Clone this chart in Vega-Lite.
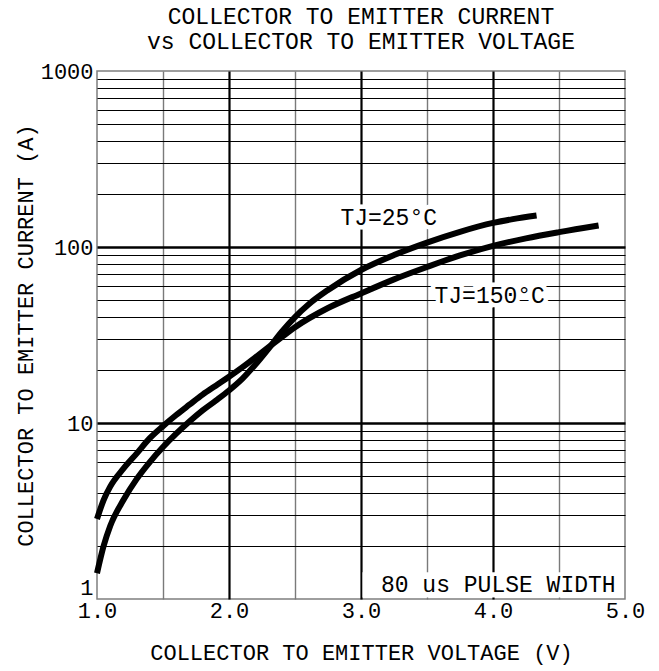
{
  "$schema": "https://vega.github.io/schema/vega-lite/v6.json",
  "width": 528,
  "height": 528,
  "autosize": {"type": "none"},
  "padding": {"left": 97, "top": 71, "right": 34, "bottom": 72},
  "background": "white",
  "config": {
    "font": "Liberation Mono",
    "view": {"stroke": "#7f7f7f", "strokeWidth": 1.5}
  },
  "title": {
    "text": ["COLLECTOR TO EMITTER CURRENT", "vs COLLECTOR TO EMITTER VOLTAGE"],
    "font": "Liberation Mono",
    "fontSize": 23,
    "fontWeight": "normal",
    "lineHeight": 25,
    "offset": 6,
    "anchor": "middle",
    "color": "black"
  },
  "datasets": {
    "curves": [
      {"series": "TJ=25°C", "V": 1.0, "I": 1.4},
      {"series": "TJ=25°C", "V": 1.05, "I": 2.0},
      {"series": "TJ=25°C", "V": 1.1, "I": 2.6},
      {"series": "TJ=25°C", "V": 1.2, "I": 3.65},
      {"series": "TJ=25°C", "V": 1.3, "I": 4.8},
      {"series": "TJ=25°C", "V": 1.4, "I": 6.0},
      {"series": "TJ=25°C", "V": 1.5, "I": 7.3},
      {"series": "TJ=25°C", "V": 1.6, "I": 8.7},
      {"series": "TJ=25°C", "V": 1.7, "I": 10.2},
      {"series": "TJ=25°C", "V": 1.8, "I": 11.8},
      {"series": "TJ=25°C", "V": 1.9, "I": 13.4},
      {"series": "TJ=25°C", "V": 2.0, "I": 15.3},
      {"series": "TJ=25°C", "V": 2.1, "I": 17.8},
      {"series": "TJ=25°C", "V": 2.2, "I": 21.5},
      {"series": "TJ=25°C", "V": 2.3, "I": 26.5},
      {"series": "TJ=25°C", "V": 2.4, "I": 33},
      {"series": "TJ=25°C", "V": 2.5, "I": 40},
      {"series": "TJ=25°C", "V": 2.6, "I": 47},
      {"series": "TJ=25°C", "V": 2.75, "I": 57},
      {"series": "TJ=25°C", "V": 3.0, "I": 74},
      {"series": "TJ=25°C", "V": 3.25, "I": 90},
      {"series": "TJ=25°C", "V": 3.5, "I": 106},
      {"series": "TJ=25°C", "V": 3.75, "I": 122},
      {"series": "TJ=25°C", "V": 4.0, "I": 137},
      {"series": "TJ=25°C", "V": 4.15, "I": 144},
      {"series": "TJ=25°C", "V": 4.33, "I": 151},
      {"series": "TJ=150°C", "V": 1.0, "I": 2.85},
      {"series": "TJ=150°C", "V": 1.05, "I": 3.65},
      {"series": "TJ=150°C", "V": 1.1, "I": 4.35},
      {"series": "TJ=150°C", "V": 1.2, "I": 5.5},
      {"series": "TJ=150°C", "V": 1.3, "I": 6.7},
      {"series": "TJ=150°C", "V": 1.4, "I": 8.2},
      {"series": "TJ=150°C", "V": 1.5, "I": 9.6},
      {"series": "TJ=150°C", "V": 1.6, "I": 11.1},
      {"series": "TJ=150°C", "V": 1.7, "I": 12.7},
      {"series": "TJ=150°C", "V": 1.8, "I": 14.5},
      {"series": "TJ=150°C", "V": 1.9, "I": 16.3},
      {"series": "TJ=150°C", "V": 2.0, "I": 18.3},
      {"series": "TJ=150°C", "V": 2.1, "I": 20.7},
      {"series": "TJ=150°C", "V": 2.2, "I": 23.6},
      {"series": "TJ=150°C", "V": 2.3, "I": 27.0},
      {"series": "TJ=150°C", "V": 2.4, "I": 30.8},
      {"series": "TJ=150°C", "V": 2.5, "I": 35.0},
      {"series": "TJ=150°C", "V": 2.75, "I": 45},
      {"series": "TJ=150°C", "V": 3.0, "I": 54.5},
      {"series": "TJ=150°C", "V": 3.25, "I": 65.5},
      {"series": "TJ=150°C", "V": 3.5, "I": 77},
      {"series": "TJ=150°C", "V": 3.75, "I": 89.5},
      {"series": "TJ=150°C", "V": 4.0, "I": 101.5},
      {"series": "TJ=150°C", "V": 4.25, "I": 112},
      {"series": "TJ=150°C", "V": 4.5, "I": 121.5},
      {"series": "TJ=150°C", "V": 4.8, "I": 132.6}
    ],
    "box": [{"V": 3.0, "V2": 5.0, "I": 1.42, "I2": 1.0}],
    "labels": [
      {"V": 3.21, "I": 146, "text": "TJ=25°C"},
      {"V": 3.975, "I": 52.7, "text": "TJ=150°C"}
    ],
    "note": [{"V": 4.04, "I": 1.2, "text": "80 us PULSE WIDTH"}]
  },
  "encoding": {
    "x": {
      "field": "V",
      "type": "quantitative",
      "scale": {"domain": [1, 5], "nice": false, "zero": false},
      "axis": {
        "title": "COLLECTOR TO EMITTER VOLTAGE (V)",
        "values": [1, 1.5, 2, 2.5, 3, 3.5, 4, 4.5, 5],
        "labelExpr": "datum.value % 1 == 0 ? format(datum.value, '.1f') : ''",
        "grid": true,
        "gridColor": {"condition": {"test": "datum.value % 1 == 0", "value": "#000000"}, "value": "#7a7a7a"},
        "gridWidth": {"condition": {"test": "datum.value % 1 == 0", "value": 2.2}, "value": 1.4},
        "gridOpacity": {"condition": {"test": "datum.value == 1 || datum.value == 5", "value": 0}, "value": 1},
        "ticks": false,
        "domain": false,
        "labelFlush": false,
        "labelOverlap": false,
        "labelPadding": 1,
        "labelFont": "Liberation Mono",
        "labelFontSize": 22,
        "labelColor": "black",
        "titleFont": "Liberation Mono",
        "titleFontSize": 22,
        "titleFontWeight": "normal",
        "titlePadding": 21,
        "titleColor": "black"
      }
    },
    "y": {
      "field": "I",
      "type": "quantitative",
      "scale": {"type": "log", "domain": [1, 1000], "nice": false},
      "axis": {
        "title": "COLLECTOR TO EMITTER CURRENT (A)",
        "values": [1, 2, 3, 4, 5, 6, 7, 8, 9, 10, 20, 30, 40, 50, 60, 70, 80, 90, 100, 200, 300, 400, 500, 600, 700, 800, 900, 1000],
        "labelExpr": "(datum.value == 1 || datum.value == 10 || datum.value == 100 || datum.value == 1000) ? format(datum.value, 'd') : ''",
        "grid": true,
        "gridColor": "#000000",
        "gridWidth": {"condition": {"test": "datum.value == 10 || datum.value == 100", "value": 2.4}, "value": 1},
        "gridOpacity": {"condition": {"test": "datum.value == 1 || datum.value == 1000", "value": 0}, "value": 1},
        "ticks": false,
        "domain": false,
        "labelOverlap": false,
        "labelBaseline": {"condition": {"test": "datum.value == 1", "value": "bottom"}, "value": "middle"},
        "labelPadding": 4,
        "labelFont": "Liberation Mono",
        "labelFontSize": 22,
        "labelColor": "black",
        "titleFont": "Liberation Mono",
        "titleFontSize": 22,
        "titleFontWeight": "normal",
        "titlePadding": 3,
        "titleColor": "black"
      }
    }
  },
  "layer": [
    {
      "data": {"name": "box"},
      "mark": {"type": "rect", "fill": "white", "xOffset": 1.5, "x2Offset": -1.5, "y2Offset": -1.5},
      "encoding": {
        "x2": {"field": "V2"},
        "y2": {"field": "I2"}
      }
    },
    {
      "data": {"name": "labels"},
      "mark": {"type": "text", "font": "Liberation Mono", "fontSize": 23, "fill": "white", "stroke": "white", "strokeWidth": 9, "align": "center", "baseline": "middle"},
      "encoding": {"text": {"field": "text"}}
    },
    {
      "data": {"name": "curves"},
      "mark": {"type": "line", "strokeWidth": 6, "interpolate": "monotone", "strokeCap": "butt"},
      "encoding": {
        "color": {"field": "series", "type": "nominal", "scale": {"range": ["#000000", "#000000"]}, "legend": null}
      }
    },
    {
      "data": {"name": "labels"},
      "mark": {"type": "text", "font": "Liberation Mono", "fontSize": 23, "fill": "black", "align": "center", "baseline": "middle"},
      "encoding": {"text": {"field": "text"}}
    },
    {
      "data": {"name": "note"},
      "mark": {"type": "text", "font": "Liberation Mono", "fontSize": 23, "fill": "black", "align": "center", "baseline": "middle"},
      "encoding": {"text": {"field": "text"}}
    }
  ]
}
